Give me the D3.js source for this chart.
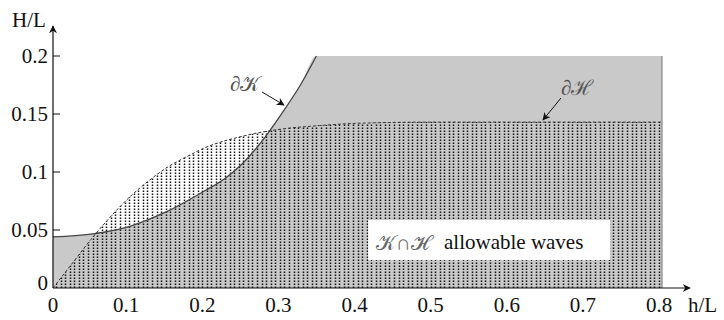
<!DOCTYPE html>
<meta charset="utf-8">
<script src="https://d3js.org/d3.v7.min.js"></script>
<style>
body { margin: 0; background: #fff; }
</style>
<svg id="chart" width="724" height="320"></svg>
<script>
// curve of dK (left boundary of the grey region)
const kH = [0, 0.05, 0.1, 0.15, 0.2, 0.225, 0.25, 0.275, 0.3, 0.325, 0.346, 0.8]
const kV = [0.044, 0.0465, 0.053, 0.066, 0.084, 0.094, 0.108, 0.127, 0.150, 0.175, 0.2, 0.2]

// curve of dH (top of the dotted region)
const hH = [0, 0.025, 0.05, 0.075, 0.1, 0.125, 0.15, 0.175, 0.2, 0.25, 0.3, 0.35, 0.4, 0.5, 0.6, 0.8]
const hV = [0, 0.021, 0.042, 0.061, 0.078, 0.092, 0.104, 0.113, 0.121, 0.131, 0.137, 0.140, 0.142, 0.143, 0.143, 0.143]

const xTicks = [0, 0.1, 0.2, 0.3, 0.4, 0.5, 0.6, 0.7, 0.8]
const yTicks = [0, 0.05, 0.1, 0.15, 0.2]

const serif = "Liberation Serif"
const svg = d3.select("#chart")

const x = d3.scaleLinear().domain([0, 0.8]).range([53, 662])
const y = d3.scaleLinear().domain([0, 0.2]).range([288, 56])

const kData = kH.map((h, i) => [h, kV[i]])
const hData = hH.map((h, i) => [h, hV[i]])

// arrow marker
const defs = svg.append("defs")
defs.append("marker")
    .attr("id", "head")
    .attr("viewBox", "0 0 10 10")
    .attr("refX", 9).attr("refY", 5)
    .attr("markerWidth", 10).attr("markerHeight", 8)
    .attr("markerUnits", "userSpaceOnUse")
    .attr("orient", "auto")
  .append("path")
    .attr("d", "M0,0 L10,5 L0,10 L3,5 Z")
    .attr("fill", "#111")

const area = d3.area()
    .x(d => x(d[0]))
    .y0(y(0))
    .y1(d => y(d[1]))
    .curve(d3.curveMonotoneX)

// grey region K
svg.append("path")
    .datum(kData)
    .attr("d", area)
    .attr("fill", "#c9c9c9")

// clip for H region
defs.append("clipPath")
    .attr("id", "clipH")
  .append("path")
    .datum(hData)
    .attr("d", area)

// dotted vertical columns
const cols = d3.range(0.004, 0.8, 0.006)
svg.append("g")
    .attr("clip-path", "url(#clipH)")
  .selectAll("line")
  .data(cols)
  .join("line")
    .attr("x1", d => Math.round(x(d)) + 0.5).attr("x2", d => Math.round(x(d)) + 0.5)
    .attr("y1", y(0)).attr("y2", y(0.16))
    .attr("stroke", "#111")
    .attr("stroke-width", 1.5)
    .attr("stroke-dasharray", "1.6,1.4")

// dK curve
const line = d3.line()
    .x(d => x(d[0]))
    .y(d => y(d[1]))
    .curve(d3.curveMonotoneX)

svg.append("path")
    .datum(kData.filter(d => d[0] <= 0.346))
    .attr("d", line)
    .attr("fill", "none")
    .attr("stroke", "#444")
    .attr("stroke-width", 1.3)

// dH curve (dashed)
svg.append("path")
    .datum(hData)
    .attr("d", line)
    .attr("fill", "none")
    .attr("stroke", "#333")
    .attr("stroke-width", 1)
    .attr("stroke-dasharray", "3,2")

// right edge
svg.append("line")
    .attr("x1", x(0.8)).attr("x2", x(0.8))
    .attr("y1", y(0)).attr("y2", y(0.2))
    .attr("stroke", "#777")
    .attr("stroke-width", 1)

// white label box
svg.append("rect")
    .attr("x", x(0.414)).attr("y", y(0.0586))
    .attr("width", x(0.732) - x(0.414))
    .attr("height", y(0.024) - y(0.0586))
    .attr("fill", "#fff")

svg.append("text")
    .attr("x", x(0.424)).attr("y", 250)
    .attr("font-size", 21)
    .style("font-family", serif)
    .style("fill", "#666")
    .text("𝒦∩ℋ")

svg.append("text")
    .attr("x", 444).attr("y", 249)
    .attr("font-size", 21)
    .style("font-family", serif)
    .style("fill", "#111")
    .text("allowable waves")

// boundary labels with arrows
svg.append("text")
    .attr("x", 230).attr("y", 91)
    .attr("font-size", 21)
    .style("font-family", serif)
    .style("fill", "#555")
    .text("∂𝒦")
svg.append("line")
    .attr("x1", 262).attr("y1", 92)
    .attr("x2", 284).attr("y2", 105)
    .attr("stroke", "#111").attr("stroke-width", 1)
    .attr("marker-end", "url(#head)")

svg.append("text")
    .attr("x", 561).attr("y", 95)
    .attr("font-size", 21)
    .style("font-family", serif)
    .style("fill", "#555")
    .text("∂ℋ")
svg.append("line")
    .attr("x1", 561).attr("y1", 98)
    .attr("x2", 543).attr("y2", 120)
    .attr("stroke", "#111").attr("stroke-width", 1)
    .attr("marker-end", "url(#head)")

// axes
svg.append("line")
    .attr("x1", x(0)).attr("y1", y(0))
    .attr("x2", x(0)).attr("y2", 26)
    .attr("stroke", "#111").attr("stroke-width", 1.2)
    .attr("marker-end", "url(#head)")
svg.append("line")
    .attr("x1", x(0)).attr("y1", y(0))
    .attr("x2", 690).attr("y2", y(0))
    .attr("stroke", "#111").attr("stroke-width", 1.2)
    .attr("marker-end", "url(#head)")

svg.append("g")
  .selectAll("line")
  .data(yTicks.filter(d => d > 0))
  .join("line")
    .attr("x1", x(0)).attr("x2", x(0) + 7)
    .attr("y1", d => y(d)).attr("y2", d => y(d))
    .attr("stroke", "#111")

svg.append("g")
  .selectAll("text")
  .data(yTicks)
  .join("text")
    .attr("x", 48)
    .attr("y", d => d === 0 ? y(d) + 2 : y(d) + 7)
    .attr("text-anchor", "end")
    .attr("font-size", 21)
    .style("font-family", serif)
    .style("fill", "#111")
    .text(d => d)

svg.append("g")
  .selectAll("text")
  .data(xTicks)
  .join("text")
    .attr("x", d => x(d) - (d === 0 ? 0 : 3))
    .attr("y", 312)
    .attr("text-anchor", "middle")
    .attr("font-size", 21)
    .style("font-family", serif)
    .style("fill", "#111")
    .text(d => d)

svg.append("text")
    .attr("x", 12).attr("y", 27)
    .attr("font-size", 21)
    .style("font-family", serif)
    .style("fill", "#111")
    .text("H/L")
svg.append("text")
    .attr("x", 688).attr("y", 312)
    .attr("font-size", 21)
    .style("font-family", serif)
    .style("fill", "#111")
    .text("h/L")
</script>
